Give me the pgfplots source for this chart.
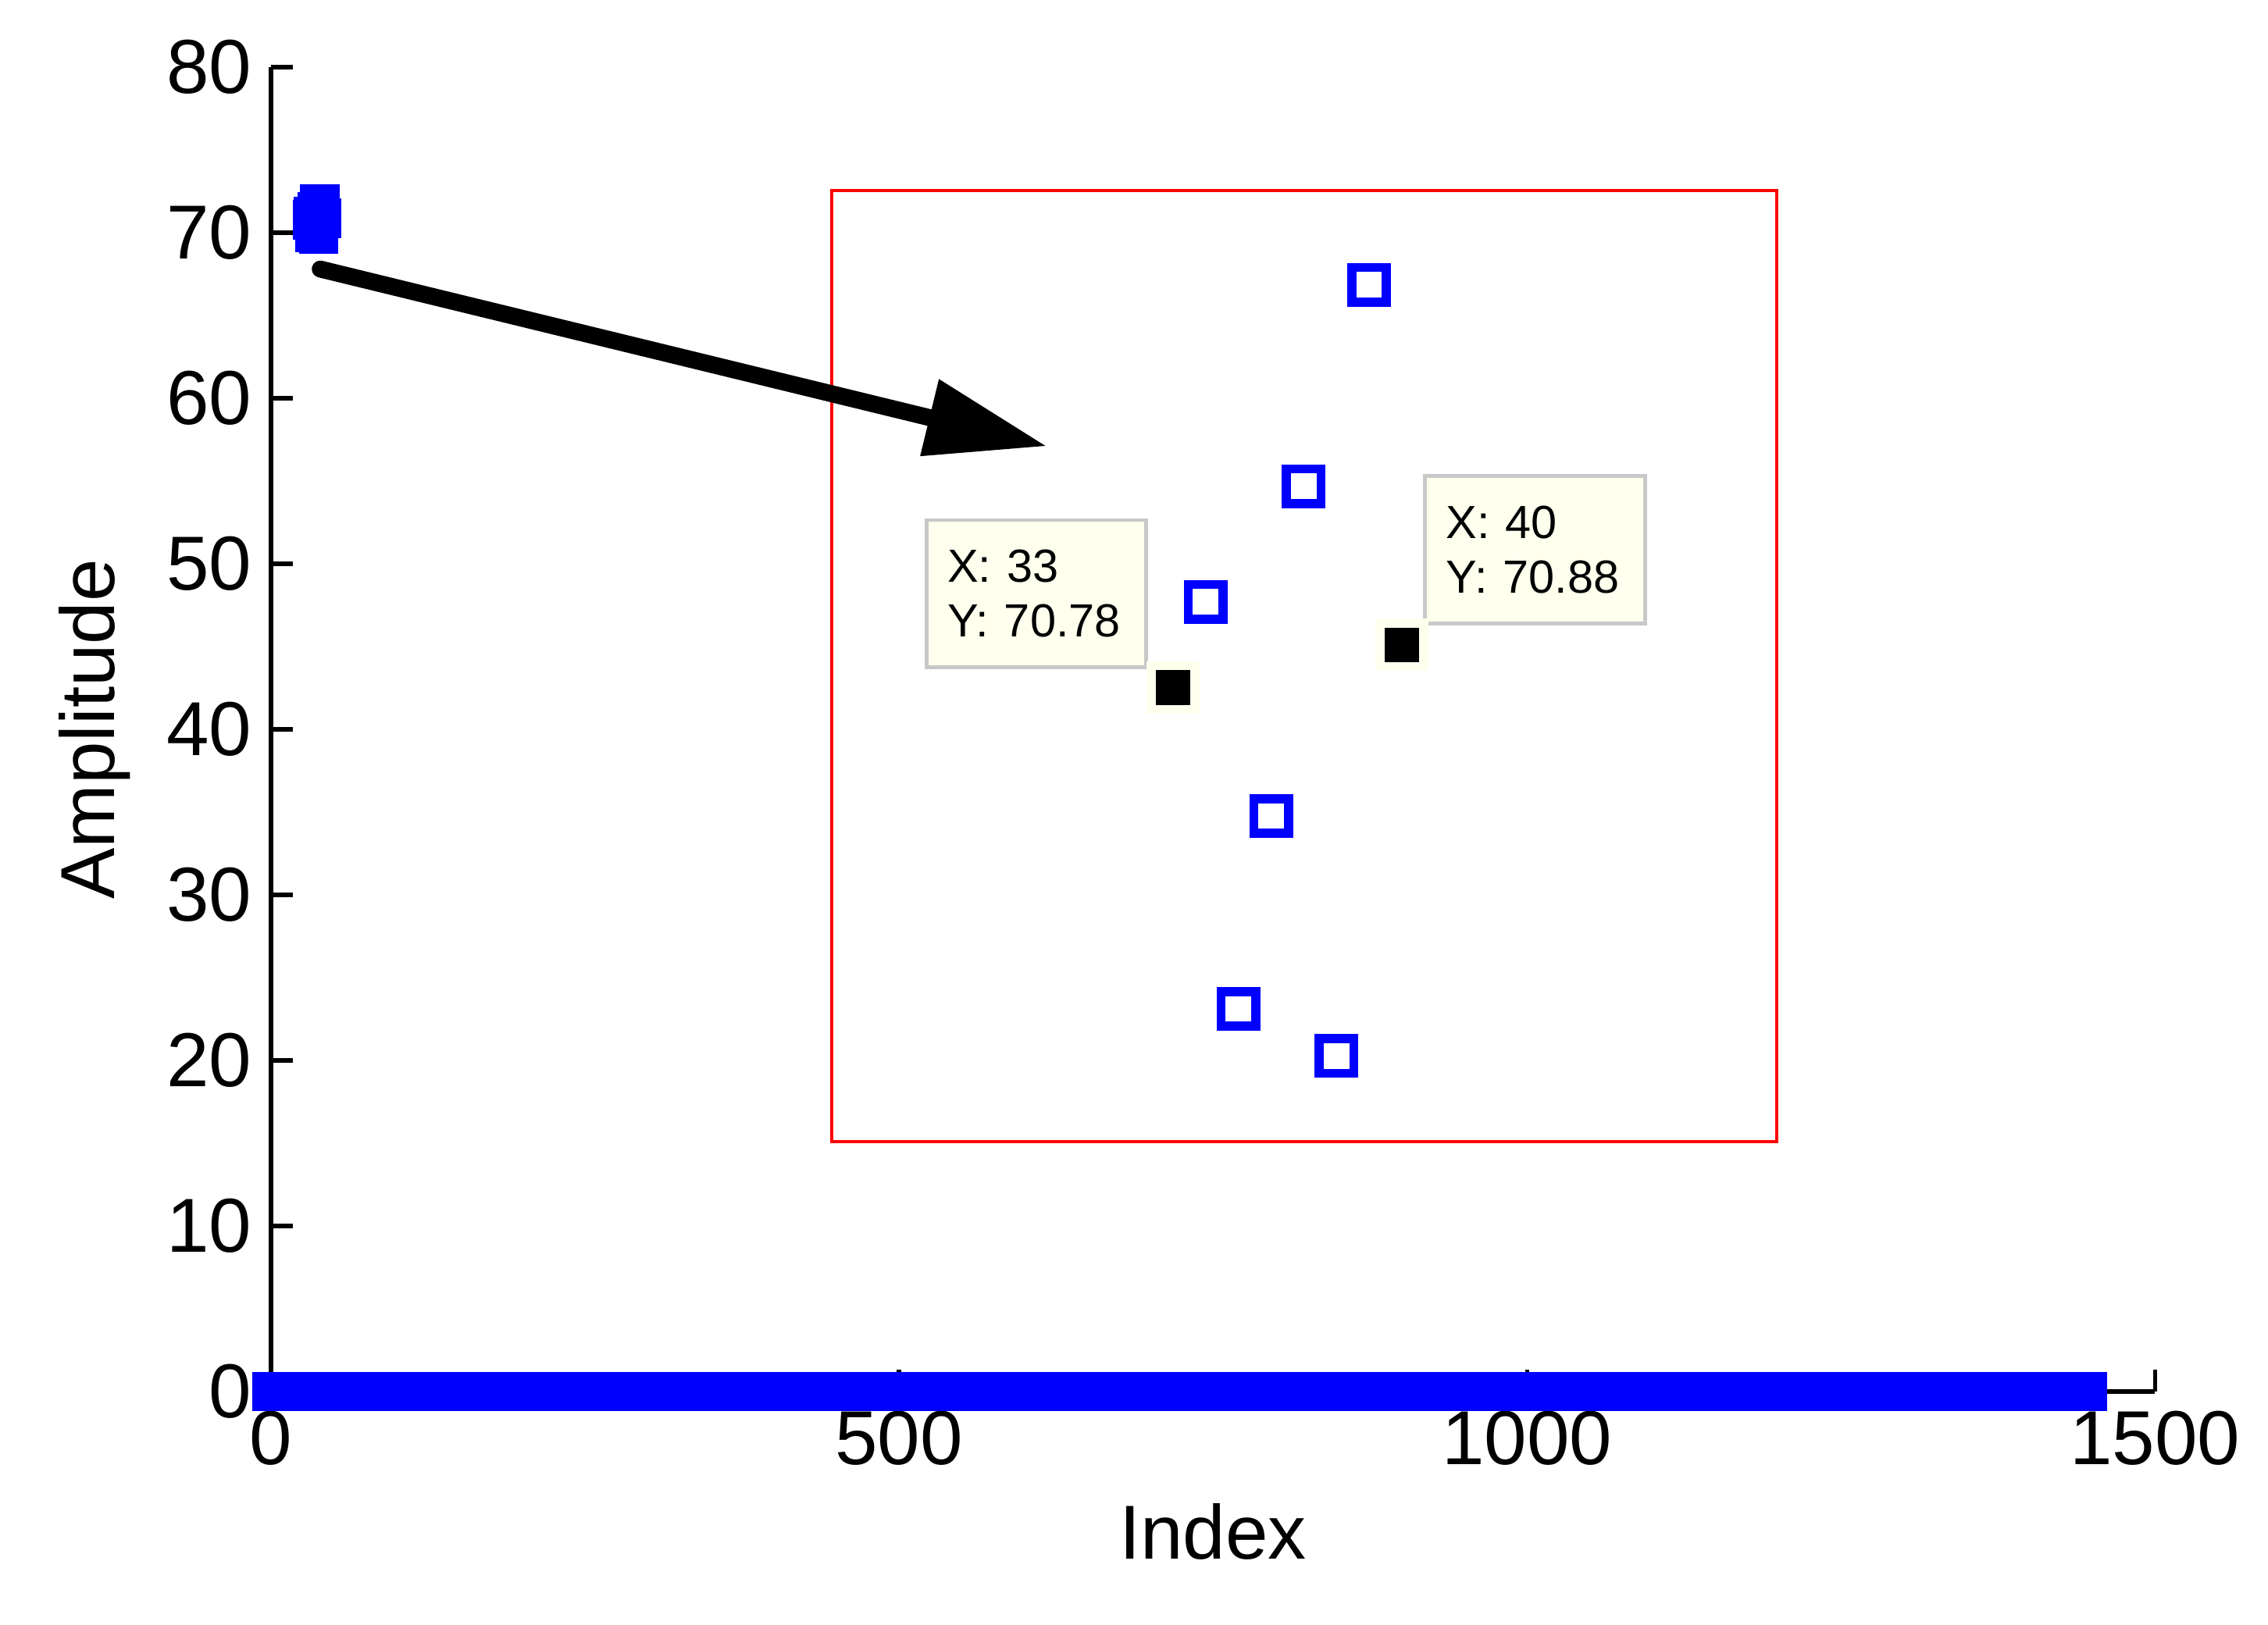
\documentclass[border=0pt]{standalone}
\usepackage{fontspec}
\setmainfont{Liberation Sans}
\usepackage{pgfplots}
\pgfplotsset{compat=1.18}
\usetikzlibrary{arrows.meta}
\definecolor{tipbg}{RGB}{255,255,238}
\definecolor{tipedge}{RGB}{200,200,200}
\tikzset{dtip/.style={draw=tipedge, line width=0.7pt, fill=tipbg,
    font=\fontsize{8.5}{10}\selectfont, align=left, text width=32.5pt,
    inner xsep=3.85pt, inner ysep=0pt, minimum width=40.2pt, minimum height=26.9pt}}

\begin{document}
\begin{tikzpicture}
\useasboundingbox (-49.57pt,-42.71pt) rectangle (365.29pt,254.57pt);

% main axis
\begin{axis}[
  at={(0pt,0pt)}, anchor=south west,
  scale only axis, width=344.6pt, height=242.3pt,
  xmin=0, xmax=1500, ymin=0, ymax=80,
  axis lines*=left, tick align=inside,
  xtick={0,500,1000,1500}, ytick={0,10,...,80},
  major tick length=4pt,
  axis line style={line width=0.75pt},
  tick style={black, line width=0.75pt},
  scaled ticks=false,
  /pgf/number format/1000 sep={},
  /pgf/number format/assume math mode=true,
  tick label style={font=\fontsize{14}{17}\selectfont},
  xlabel={Index}, ylabel={Amplitude},
  every axis x label/.style={at={([yshift=-30.7pt]axis description cs:0.5,0)}, anchor=base,
    font=\fontsize{14}{17}\selectfont},
  every axis y label/.style={at={([xshift=-28.7pt]axis description cs:0,0.5)}, anchor=base, rotate=90,
    font=\fontsize{14}{17}\selectfont},
  clip=false,
]
% zero samples
\addplot[blue, line width=7.24pt, line cap=rect] coordinates {(1,0) (32,0)};
\addplot[blue, line width=7.24pt, line cap=rect] coordinates {(41,0) (1446,0)};
% peak samples
\addplot[only marks, mark=square*, mark size=3.42pt, mark options={draw=blue, fill=blue, line width=0.4pt}] coordinates {
(33,70.78) (34,70.98) (35,70.03) (36,70.48) (37,71.25) (38,69.92) (39,71.72) (40,70.88)
};
\coordinate (arrS) at (axis cs:39.2,67.80);
\coordinate (arrE) at (axis cs:618.2,57.09);
\end{axis}

% zoomed inset
\begin{axis}[
  at={(102.6pt,45.7pt)}, anchor=south west,
  scale only axis, width=172.8pt, height=174pt,
  xmin=22.56, xmax=51.47, ymin=69.72, ymax=71.94,
  xtick=\empty, ytick=\empty,
  axis line style={red, line width=0.55pt},
  clip=false,
]
\addplot[only marks, mark=square, mark size=3.17pt, mark options={draw=blue, line width=1.66pt}] coordinates {
(33,70.78) (34,70.98) (35,70.03) (36,70.48) (37,71.25) (38,69.92) (39,71.72) (40,70.88)
};
\addplot[only marks, mark=square*, mark size=3.98pt, mark options={fill=black, draw=tipbg, line width=1.65pt}] coordinates {
(33,70.78) (40,70.88)
};
\node[dtip, anchor=south east] at ([xshift=-4.56pt, yshift=3.4pt]axis cs:33,70.78) {X: 33\\Y: 70.78};
\node[dtip, anchor=south west] at ([xshift=3.94pt, yshift=3.57pt]axis cs:40,70.88) {X: 40\\Y: 70.88};
\end{axis}

\draw[line width=3.1pt, line cap=round, -{Triangle[length=22.2pt, width=13.6pt]}] (arrS) -- (arrE);
\end{tikzpicture}
\end{document}
